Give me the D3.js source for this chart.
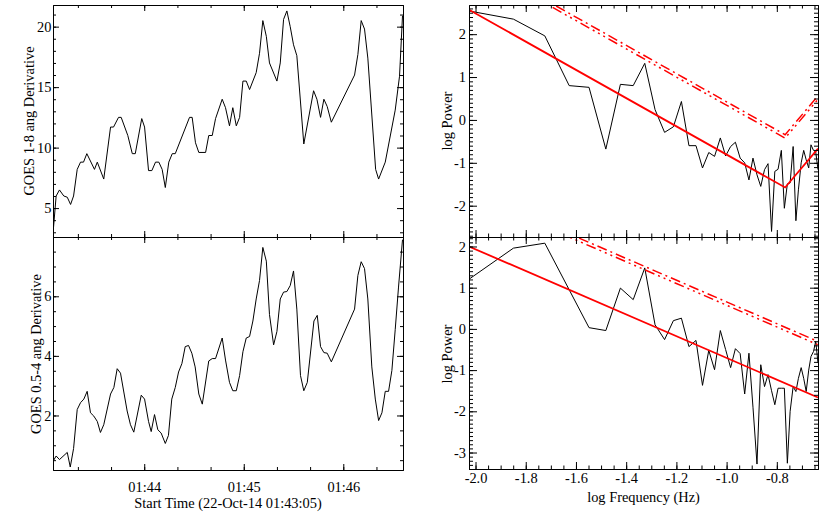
<!DOCTYPE html>
<html>
<head>
<meta charset="utf-8">
<script src="https://cdn.jsdelivr.net/npm/d3@7"></script>
<style>
  body { margin: 0; background: #fff; }
  svg text { font-family: "Liberation Serif", "Times New Roman", serif; font-size: 14.4px; fill: #000; }
</style>
</head>
<body>
<div id="chart"></div>
<script>
// GOES derivative light curves (left) and their power spectra (right)

// light curves, seconds after 01:43:05
const t18 = [0, 1.9, 3.9, 6.5, 8.6, 10.6, 12.4, 14.6, 16.6, 18.4, 20.4, 25.0, 26.7, 30.6, 34.7, 36.5, 39.5, 41.1, 45.1, 47.8,
  49.6, 53.5, 55.2, 57.6, 59.6, 61.8, 63.8, 65.8, 67.7, 69.8, 71.9, 73.7, 82.3, 83.9, 85.9, 87.9, 92.0, 93.9, 96.0, 98.0,
  102.0, 104.0, 106.4, 108.4, 110.5, 112.5, 114.5, 116.5, 118.5, 122.5, 124.5, 126.5, 128.6, 130.5, 135.0, 137.0, 139.0, 141.0, 143.0, 145.0,
  147.0, 151.2, 157.1, 159.1, 161.3, 163.3, 165.3, 167.8, 181.8, 183.8, 185.8, 187.8, 189.8, 194.5, 196.3, 200.3, 206.3, 208.9, 210.7]
const deriv18 = [2.9, 6.0, 6.5, 6.0, 5.9, 5.3, 6.0, 8.2, 8.8, 8.8, 9.5, 8.2, 8.8, 7.4, 11.7, 11.7, 12.5, 12.5, 11.0, 9.5,
  9.5, 12.4, 11.7, 8.1, 8.1, 8.8, 8.8, 8.2, 6.7, 8.8, 9.5, 9.5, 12.5, 12.5, 10.4, 9.6, 9.6, 11.0, 11.0, 12.4,
  14.0, 13.3, 11.8, 13.3, 11.8, 12.5, 15.5, 15.5, 14.8, 16.2, 17.8, 20.5, 19.2, 17.0, 15.5, 17.0, 20.6, 21.3, 20.0, 18.5,
  17.6, 10.3, 14.7, 14.0, 12.5, 14.0, 13.4, 12.1, 16.0, 17.7, 20.5, 19.8, 17.4, 8.2, 7.4, 8.8, 13.1, 15.9, 20.9]

const t054 = [0, 1.9, 3.9, 8.6, 10.4, 12.4, 14.6, 16.6, 18.6, 20.6, 22.6, 24.6, 26.7, 28.6, 30.6, 34.7, 36.7, 38.7, 40.7, 44.7,
  46.7, 48.7, 53.2, 55.2, 57.6, 59.2, 61.2, 63.2, 65.2, 67.7, 69.6, 71.6, 73.7, 75.7, 77.7, 79.7, 81.7, 83.7, 85.7, 87.9,
  90.0, 93.9, 96.0, 98.0, 102.0, 104.0, 106.4, 108.4, 110.5, 112.5, 114.5, 116.5, 118.5, 120.5, 122.5, 124.5, 126.5, 128.6, 130.5, 133.0,
  135.0, 137.0, 139.0, 141.0, 143.0, 145.0, 147.0, 149.2, 151.2, 153.3, 157.3, 159.3, 161.3, 163.3, 165.3, 167.8, 181.8, 183.8, 185.8, 187.8,
  189.8, 192.2, 194.3, 196.3, 198.3, 200.3, 202.3, 204.3, 206.3, 208.3, 210.7]
const deriv054 = [0.46, 0.64, 0.52, 0.76, 0.27, 0.89, 2.2, 2.43, 2.55, 2.81, 2.09, 1.98, 1.8, 1.43, 1.69, 2.72, 2.94, 3.57, 3.42, 2.15,
  1.69, 1.44, 2.68, 2.55, 1.8, 1.46, 2.03, 1.52, 1.41, 1.06, 1.33, 2.55, 2.94, 3.46, 3.74, 4.31, 4.35, 4.09, 3.63, 2.72,
  2.38, 3.83, 3.91, 3.91, 4.6, 3.86, 3.11, 2.83, 2.83, 3.34, 4.14, 4.6, 4.65, 5.17, 5.91, 6.53, 7.64, 7.18, 5.39, 4.37,
  4.82, 5.91, 6.14, 6.16, 6.36, 6.85, 5.57, 3.34, 2.83, 3.11, 5.17, 5.36, 4.31, 4.11, 4.09, 3.8, 5.57, 6.7, 7.16, 6.93,
  5.91, 3.63, 2.55, 1.83, 2.09, 2.81, 2.81, 3.51, 4.88, 6.31, 7.9]

const timeTickSec = [55, 115, 175]
const timeTickLabels = ["01:44", "01:45", "01:46"]

// power spectra
const logFreq = [-2.025, -1.849, -1.724, -1.627, -1.548, -1.481, -1.423, -1.372, -1.326, -1.285,
  -1.247, -1.212, -1.180, -1.150, -1.122, -1.096, -1.071, -1.048, -1.025, -1.004,
  -0.984, -0.965, -0.946, -0.928, -0.911, -0.895, -0.879, -0.864, -0.849, -0.835,
  -0.821, -0.808, -0.795, -0.782, -0.770, -0.758, -0.747, -0.735, -0.724, -0.714,
  -0.703, -0.693, -0.683, -0.673, -0.664, -0.654, -0.645, -0.636]
const logPow18 = [2.54, 2.35, 1.96, 0.80, 0.76, -0.68, 0.83, 0.80, 1.32, 0.24,
  -0.29, -0.16, 0.43, -0.60, -0.60, -1.12, -0.76, -0.85, -0.42, -0.84,
  -0.62, -0.52, -0.89, -1.00, -1.40, -0.89, -1.28, -1.55, -1.16, -1.02,
  -2.60, -1.20, -1.15, -0.71, -2.06, -1.49, -1.47, -0.62, -2.35, -1.63,
  -1.00, -0.71, -0.93, -1.12, -0.58, -0.71, -0.75, -1.16]
const logPow054 = [1.21, 1.96, 2.08, 0.95, 0.03, -0.04, 0.99, 0.71, 1.48, 0.10,
  -0.26, 0.20, 0.26, -0.43, -0.28, -1.37, -0.52, -0.99, -0.04, -0.50,
  -0.94, -0.48, -0.60, -1.58, -0.59, -1.90, -3.28, -0.87, -1.40, -1.11,
  -1.50, -1.84, -1.44, -1.44, -1.44, -3.26, -2.00, -1.40, -1.52, -1.20,
  -0.94, -1.20, -1.52, -1.00, -0.67, -0.55, -0.30, -0.83]

// fitted power laws and confidence levels (left edge, break, right edge)
const fitX18 = [-2.026, -0.767, -0.636]
const fit18 = [2.57, -1.575, -0.67]
const confA18 = [3.72, -0.425, 0.48]
const confB18 = [3.80, -0.345, 0.56]
const fitX054 = [-2.026, -0.636]
const fit054 = [2.00, -1.665]
const confA054 = [3.28, -0.385]
const confB054 = [3.36, -0.305]

const freqTicks = [-2.0, -1.8, -1.6, -1.4, -1.2, -1.0, -0.8]

const W = 830, H = 529
const svg = d3.select("#chart").append("svg")
    .attr("width", W)
    .attr("height", H)

let clipCount = 0

// ticks point inward on all four sides, like IDL
function frame(g, x, y, o) {
    const [x0, x1] = x.range(), [y1, y0] = y.range()
    const sides = [
        [d3.axisLeft, y, `translate(${x0},0)`, o.yMajor, o.yMinor, o.yLen, o.yFmt, o.yPad],
        [d3.axisRight, y, `translate(${x1},0)`, o.yMajor, o.yMinor, o.yLen, null, 0],
        [d3.axisTop, x, `translate(0,${y0})`, o.xMajor, o.xMinor, o.xLen, null, 0],
        [d3.axisBottom, x, `translate(0,${y1})`, o.xMajor, o.xMinor, o.xLen, o.xFmt, o.xPad]
    ]
    sides.forEach(([fn, sc, tr, major, minor, len, fmt, pad]) => {
        g.append("g")
            .attr("transform", tr)
            .call(fn(sc).tickValues(minor).tickSize(-len / 2).tickSizeOuter(0).tickFormat(""))
        g.append("g")
            .attr("transform", tr)
            .call(fn(sc).tickValues(major).tickSize(-len).tickSizeOuter(0)
                .tickPadding(pad).tickFormat(fmt || (() => "")))
    })
}

function clipFor(x, y) {
    const id = "clip" + (clipCount++)
    const [x0, x1] = x.range(), [y1, y0] = y.range()
    svg.append("clipPath").attr("id", id)
        .append("rect")
        .attr("x", x0).attr("y", y0)
        .attr("width", x1 - x0 + 1).attr("height", y1 - y0 + 1)
    return `url(#${id})`
}

function yTitle(text, bx, cy) {
    svg.append("text")
        .attr("transform", `translate(${bx},${cy}) rotate(-90)`)
        .style("text-anchor", "middle")
        .text(text)
}

// ---------- left column: light curves ----------
const tScale = d3.scaleLinear().domain([0, 211]).range([53, 403])
const timeMinor = d3.range(15, 211, 20)

function lightCurve(times, vals, yDomain, yRange, yMajor, yMinor, showX) {
    const y = d3.scaleLinear().domain(yDomain).range(yRange)
    const g = svg.append("g")
    g.append("path")
        .datum(times.map((t, i) => [t, vals[i]]))
        .attr("clip-path", clipFor(tScale, y))
        .attr("fill", "none")
        .attr("stroke", "#000")
        .attr("stroke-width", 1)
        .attr("d", d3.line().x(d => tScale(d[0])).y(d => y(d[1])))
    frame(g, tScale, y, {
        yMajor: yMajor, yMinor: yMinor, yLen: 6, yFmt: d => String(d), yPad: 1.5,
        xMajor: timeTickSec, xMinor: timeMinor, xLen: 6,
        xFmt: showX ? ((d, i) => timeTickLabels[i]) : null, xPad: 11.5
    })
}

lightCurve(t18, deriv18, [2.61, 21.79], [237, 5], [5, 10, 15, 20], d3.range(3, 22, 1), false)
lightCurve(t054, deriv054, [0.17, 7.99], [470, 237], [2, 4, 6], d3.range(0.5, 8, 0.5), true)

yTitle("GOES 1-8 ang Derivative", 34, 121)
yTitle("GOES 0.5-4 ang Derivative", 40.5, 354)

svg.append("text")
    .attr("x", 228).attr("y", 507.5)
    .style("text-anchor", "middle")
    .text("Start Time (22-Oct-14 01:43:05)")

// ---------- right column: spectra ----------
const fScale = d3.scaleLinear().domain([-2.026, -0.636]).range([469, 818])
const freqMinor = d3.range(-2.0, -0.63, 0.05)

function spectrum(pow, fx, fit, confA, confB, yDomain, yRange, showX) {
    const y = d3.scaleLinear().domain(yDomain).range(yRange)
    const g = svg.append("g")
    const clip = clipFor(fScale, y)
    const line = d3.line().x(d => fScale(d[0])).y(d => y(d[1]))
    const lines = g.append("g").attr("clip-path", clip)

    lines.append("path")
        .datum(logFreq.map((f, i) => [f, pow[i]]))
        .attr("fill", "none")
        .attr("stroke", "#000")
        .attr("stroke-width", 1)
        .attr("d", line)

    lines.append("path")
        .datum(fx.map((f, i) => [f, fit[i]]))
        .attr("fill", "none")
        .attr("stroke", "#f00")
        .attr("stroke-width", 1.8)
        .attr("d", line)

    lines.append("path")
        .datum(fx.map((f, i) => [f, confA[i]]))
        .attr("fill", "none")
        .attr("stroke", "#f00")
        .attr("stroke-width", 1.5)
        .attr("stroke-dasharray", "10,4,2,4,2,4,2,4")
        .attr("d", line)

    lines.append("path")
        .datum(fx.map((f, i) => [f, confB[i]]))
        .attr("fill", "none")
        .attr("stroke", "#f00")
        .attr("stroke-width", 1.5)
        .attr("stroke-dasharray", "10,4,2,4")
        .attr("d", line)

    const yMajor = d3.range(-3, 3, 1).filter(v => v >= yDomain[0] && v <= yDomain[1])
    const yMinor = d3.range(-35, 30, 1).map(v => v / 10).filter(v => v >= yDomain[0] && v <= yDomain[1])
    frame(g, fScale, y, {
        yMajor: yMajor, yMinor: yMinor, yLen: 8, yFmt: d => String(d), yPad: 3,
        xMajor: freqTicks, xMinor: freqMinor, xLen: 7,
        xFmt: showX ? (d => d.toFixed(1)) : null, xPad: 4.2
    })
}

spectrum(logPow18, fitX18, fit18, confA18, confB18, [-2.73, 2.68], [237, 5], false)
spectrum(logPow054, fitX054, fit054, confA054, confB054, [-3.4, 2.23], [469, 237], true)

yTitle("log Power", 452, 121)
yTitle("log Power", 452, 354)

svg.append("text")
    .attr("x", 643.5).attr("y", 501.5)
    .style("text-anchor", "middle")
    .text("log Frequency (Hz)")
</script>
</body>
</html>
